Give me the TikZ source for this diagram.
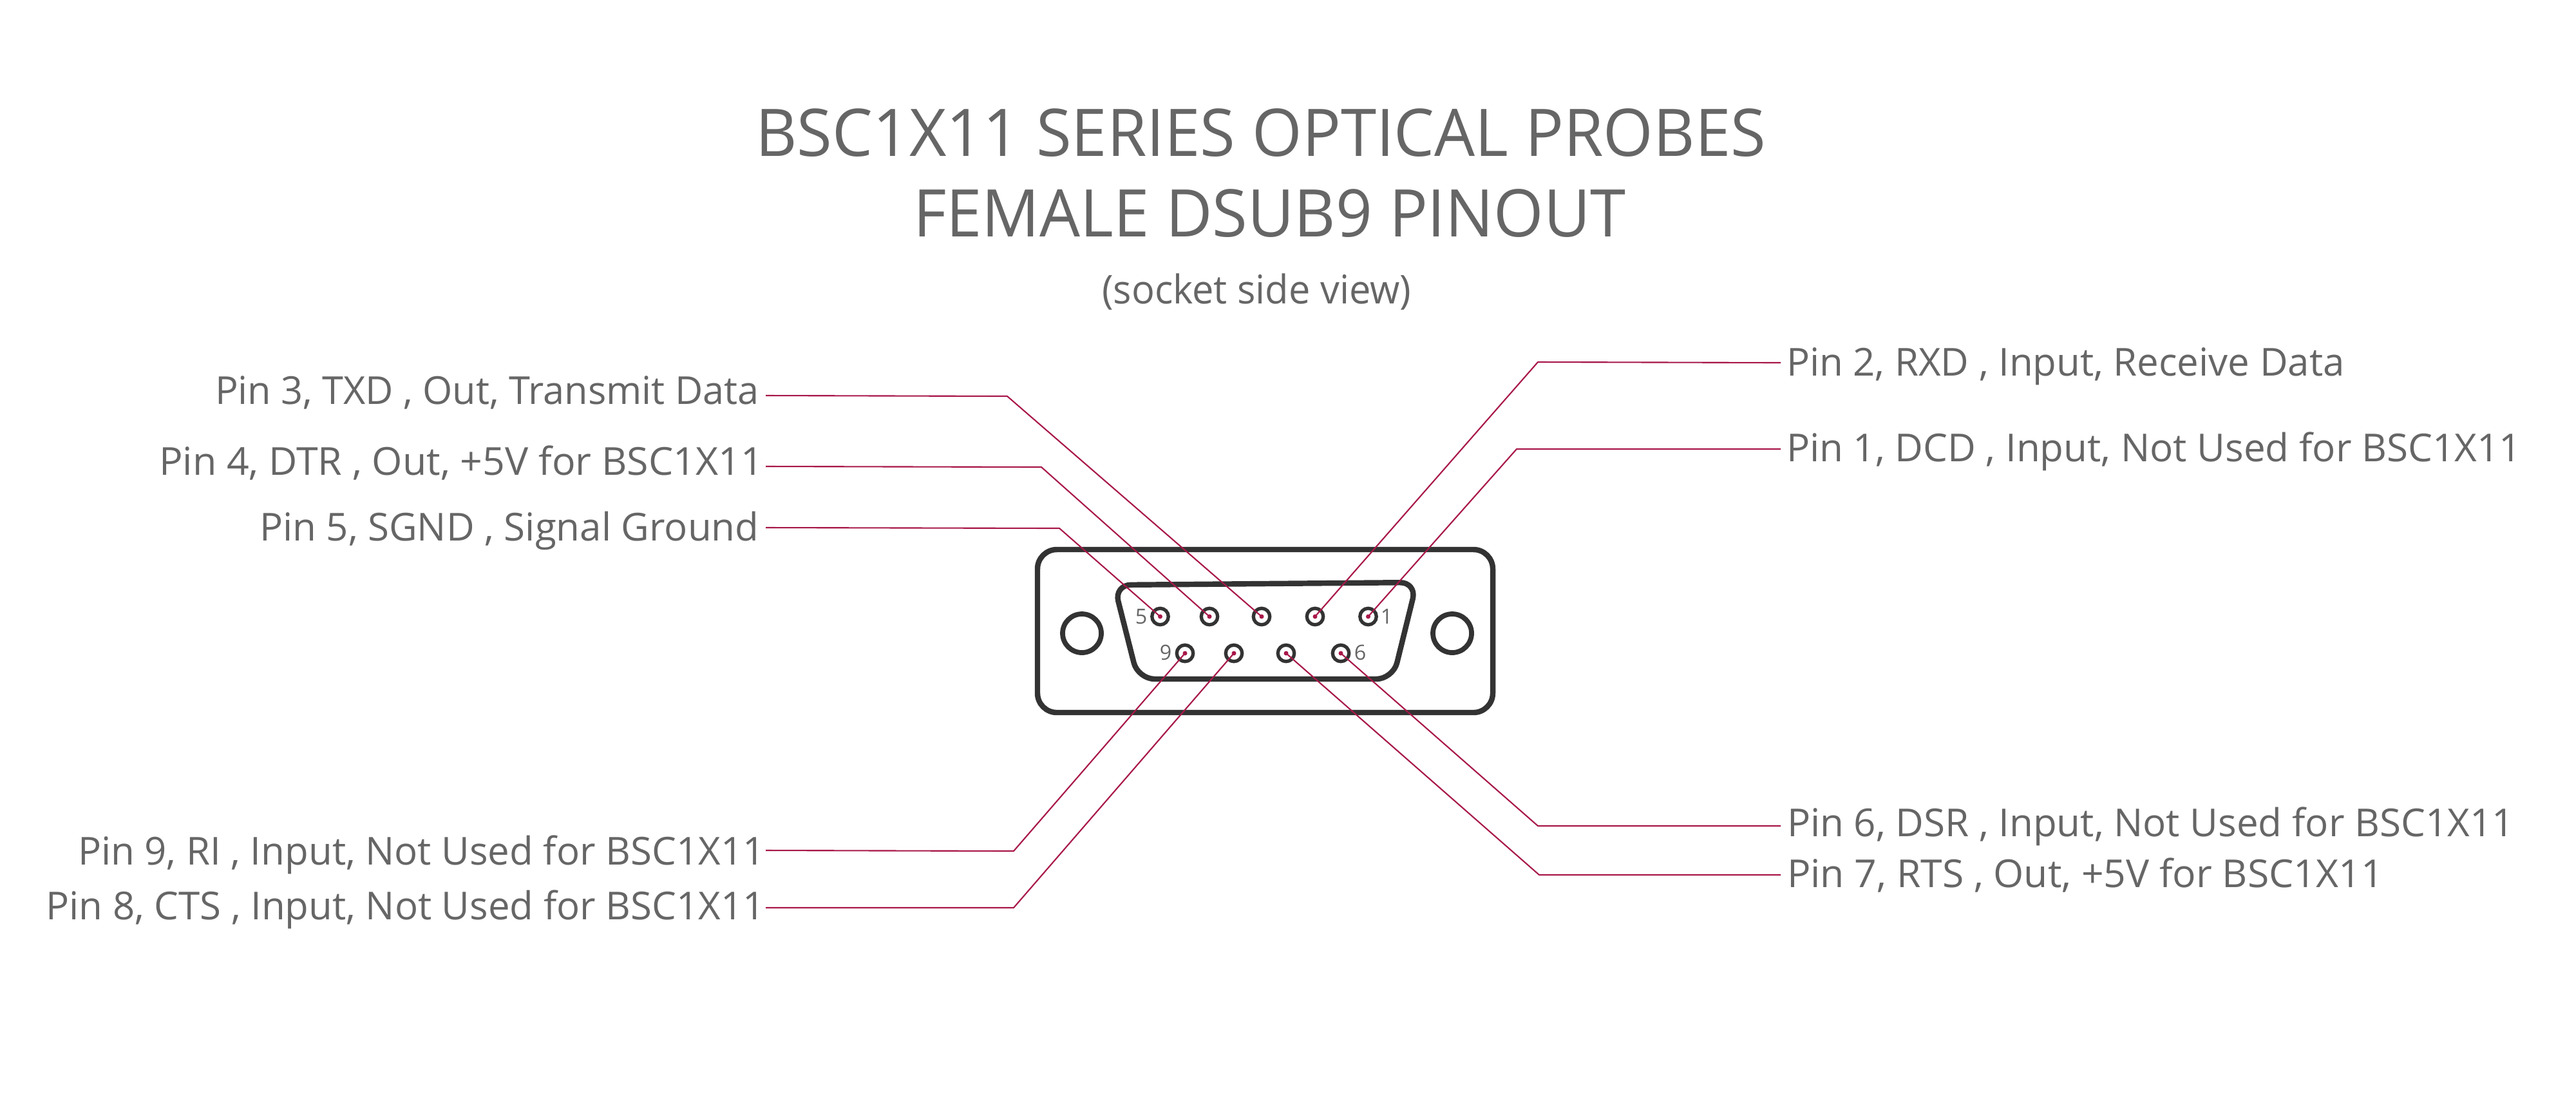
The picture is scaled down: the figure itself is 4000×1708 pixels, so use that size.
\documentclass[tikz,border=0pt]{standalone}
\usepackage{fontspec}
\setmainfont{Open Sans}
\definecolor{txt}{HTML}{666666}
\definecolor{wirecol}{HTML}{A8174A}
\definecolor{shell}{HTML}{333333}
\tikzset{
  every node/.style={inner sep=0pt,outer sep=0pt,text=txt},
  titletext/.style={font=\fontsize{29}{34}\selectfont},
  subtext/.style={font=\fontsize{17.5}{21}\selectfont},
  lab/.style={font=\fontsize{17}{20}\selectfont},
  digit/.style={font=\fontsize{9.2}{11}\selectfont},
  body/.style={draw=shell,line width=2.4pt,line join=round},
  pin/.style={circle,draw=shell,line width=1.5pt,minimum size=0.255cm},
  hole/.style={circle,draw=shell,line width=2.2pt,minimum size=0.6cm},
  wire/.style={draw=wirecol,line width=0.6pt,line join=round},
  pindot/.style={fill=wirecol,draw=none}
}
\begin{document}
\begin{tikzpicture}[x=0.01cm,y=-0.01cm]
\useasboundingbox (0,0) rectangle (4000,1708);
% titles
\node[titletext,anchor=base west] (t1) at (1173,242) {\resizebox{15.68cm}{\height}{BSC1X11 SERIES OPTICAL PROBES}};
\node[titletext,anchor=base west] (t2) at (1418,367) {\resizebox{11.06cm}{\height}{FEMALE DSUB9 PINOUT}};
\node[subtext,anchor=base west] (t3) at (1711,471) {\resizebox{4.80cm}{\height}{(socket side view)}};
% connector body
\draw[body,rounded corners=0.3cm] (1611,853) rectangle (2318,1106);
\draw[body,rounded corners=0.26cm] (1730,908) -- (2200,904) -- (2163,1054) -- (1767,1054) -- cycle;
\node[hole] (hl) at (1680,983) {};
\node[hole] (hr) at (2255,983) {};
% pins
\node[pin] (p5) at (1801.5,957) {};
\node[pin] (p4) at (1878,957) {};
\node[pin] (p3) at (1959,957) {};
\node[pin] (p2) at (2042,957) {};
\node[pin] (p1) at (2124.5,957) {};
\node[pin] (p9) at (1840,1014) {};
\node[pin] (p8) at (1916,1014) {};
\node[pin] (p7) at (1997,1014) {};
\node[pin] (p6) at (2082,1014) {};
% digits
\node[digit,anchor=base] (d5) at (1772,968) {5};
\node[digit,anchor=base] (d1) at (2153,968) {1};
\node[digit,anchor=base] (d9) at (1810,1024) {9};
\node[digit,anchor=base] (d6) at (2112,1024) {6};
% labels
\node[lab,anchor=base west] (l3) at (334,627) {\resizebox{8.44cm}{\height}{Pin 3, TXD , Out, Transmit Data}};
\node[lab,anchor=base west] (l4) at (247,737) {\resizebox{9.375cm}{\height}{Pin 4, DTR , Out, +5V for BSC1X11}};
\node[lab,anchor=base west] (l5) at (403,839) {\resizebox{7.75cm}{\height}{Pin 5, SGND , Signal Ground}};
\node[lab,anchor=base west] (l9) at (121,1342) {\resizebox{10.66cm}{\height}{Pin 9, RI , Input, Not Used for BSC1X11}};
\node[lab,anchor=base west] (l8) at (71.5,1427) {\resizebox{11.155cm}{\height}{Pin 8, CTS , Input, Not Used for BSC1X11}};
\node[lab,anchor=base west] (l2) at (2774,583) {\resizebox{8.66cm}{\height}{Pin 2, RXD , Input, Receive Data}};
\node[lab,anchor=base west] (l1) at (2774,716) {\resizebox{11.40cm}{\height}{Pin 1, DCD , Input, Not Used for BSC1X11}};
\node[lab,anchor=base west] (l6) at (2775,1298) {\resizebox{11.28cm}{\height}{Pin 6, DSR , Input, Not Used for BSC1X11}};
\node[lab,anchor=base west] (l7) at (2775,1377) {\resizebox{9.25cm}{\height}{Pin 7, RTS , Out, +5V for BSC1X11}};
% free ends
\coordinate (a3) at (1189,614);
\coordinate (a4) at (1189,724);
\coordinate (a5) at (1189,819);
\coordinate (a9) at (1189,1320);
\coordinate (a8) at (1189,1409);
\coordinate (a2) at (2765,563);
\coordinate (a1) at (2765,697);
\coordinate (a6) at (2765,1282);
\coordinate (a7) at (2765,1358);
% wires
\draw[wire] (a3) -- (1564,615) -- (p3.center);
\draw[wire] (a4) -- (1617,725) -- (p4.center);
\draw[wire] (a5) -- (1645,820) -- (p5.center);
\draw[wire] (a9) -- (1574,1321) -- (p9.center);
\draw[wire] (a8) -- (1574,1409) -- (p8.center);
\draw[wire] (a2) -- (2388,562) -- (p2.center);
\draw[wire] (a1) -- (2355,697) -- (p1.center);
\draw[wire] (a6) -- (2388,1282) -- (p6.center);
\draw[wire] (a7) -- (2390,1358) -- (p7.center);
\foreach \n in {1,...,9} \fill[pindot] (p\n.center) circle (0.035cm);
\end{tikzpicture}
\end{document}
